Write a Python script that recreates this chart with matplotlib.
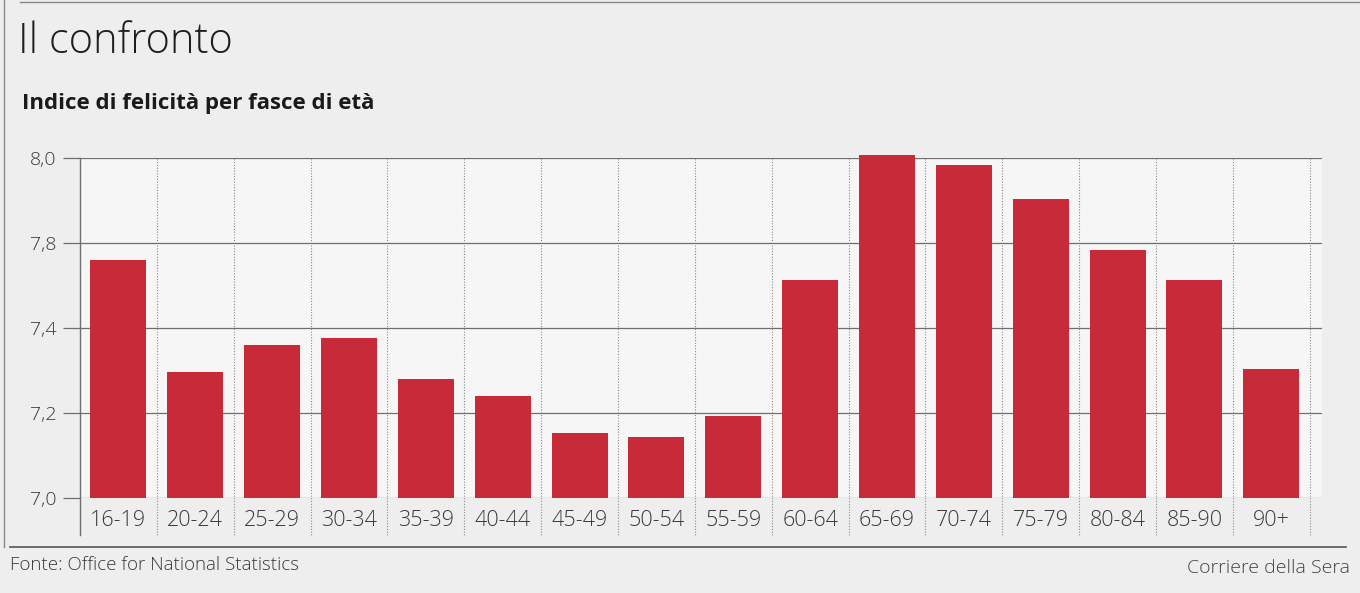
import matplotlib.pyplot as plt
import matplotlib.transforms as mtransforms
import numpy as np

# age groups and happiness index
fasce = ['16-19', '20-24', '25-29', '30-34', '35-39', '40-44', '45-49', '50-54',
         '55-59', '60-64', '65-69', '70-74', '75-79', '80-84', '85-90', '90+']
indice = [7.70, 7.37, 7.45, 7.47, 7.35, 7.30, 7.19, 7.18,
          7.24, 7.64, 8.01, 7.98, 7.88, 7.73, 7.64, 7.38]

# the printed axis has equally spaced gridlines but these labels
y_ticks = [7.0, 7.25, 7.5, 7.75, 8.0]
y_labels = ['7,0', '7,2', '7,4', '7,8', '8,0']

red = '#c92a3a'
grid_col = '#6f6f6f'
text_col = '#3a3a3a'

fig = plt.figure(figsize=(13.6, 5.93), dpi=100, facecolor='#eeeeee')
ax = fig.add_axes([80 / 1360, 95 / 593, 1242 / 1360, 340 / 593])
ax.set_facecolor('#f6f6f6')

x = np.arange(len(fasce))
ax.bar(x, np.array(indice) - 7.0, bottom=7.0, width=0.73, color=red, zorder=3, clip_on=False)

ax.set_xlim(-0.5, 15.66)
ax.set_ylim(7.0, 8.0)

for s in ax.spines.values():
    s.set_visible(False)

# horizontal gridlines, stretched a bit left of the axis
ax.set_yticks(y_ticks)
ax.set_yticklabels(y_labels, fontsize=14, color=text_col, family='Open Sans', fontweight=300)
ax.tick_params(axis='y', length=12, width=0.9, color=grid_col, pad=5)
for yv in y_ticks:
    ax.axhline(yv, color=grid_col, lw=0.9, zorder=1)

# vertical separators: solid at left, dotted between groups, running through the labels
trans = mtransforms.blended_transform_factory(ax.transData, ax.transAxes)
ax.plot([-0.5, -0.5], [-0.11, 1.0], transform=trans, color=grid_col, lw=1.0, clip_on=False, zorder=2)
for b in np.arange(0.5, len(fasce), 1.0):
    ax.plot([b, b], [-0.11, 1.0], transform=trans, color='#8a8a8a', lw=0.8,
            ls=(0, (1, 1.5)), clip_on=False, zorder=2)

ax.set_xticks(x)
ax.set_xticklabels(fasce, fontsize=15.5, color=text_col, family='Open Sans', fontweight=300)
ax.tick_params(axis='x', length=0, pad=9)

# titles
fig.text(18 / 1360, 1 - 42 / 593, 'Il confronto', fontsize=30, family='Open Sans',
         fontweight=300, color='#1e1e1e', va='center')
fig.text(22 / 1360, 1 - 103 / 593, 'Indice di felicità per fasce di età', fontsize=16,
         family='Open Sans', fontweight='bold', color='#1a1a1a', va='center')

# footer
fig.text(10 / 1360, 1 - 565 / 593, 'Fonte: Office for National Statistics', fontsize=13.5,
         family='Open Sans', fontweight=300, color=text_col, va='center')
fig.text(1350 / 1360, 1 - 568 / 593, 'Corriere della Sera', fontsize=14,
         family='Open Sans', fontweight=300, color='#444444', va='center', ha='right')

# page rules
fig.add_artist(plt.Line2D([10 / 1360, 1346 / 1360], [1 - 547 / 593] * 2, color='#555555', lw=1.2))
fig.add_artist(plt.Line2D([20 / 1360, 1.0], [1 - 2 / 593] * 2, color='#888888', lw=1.0))
fig.add_artist(plt.Line2D([4 / 1360] * 2, [1 - 547 / 593, 1.0], color='#888888', lw=1.0))

fig.savefig('out.png', dpi=100, facecolor=fig.get_facecolor())
